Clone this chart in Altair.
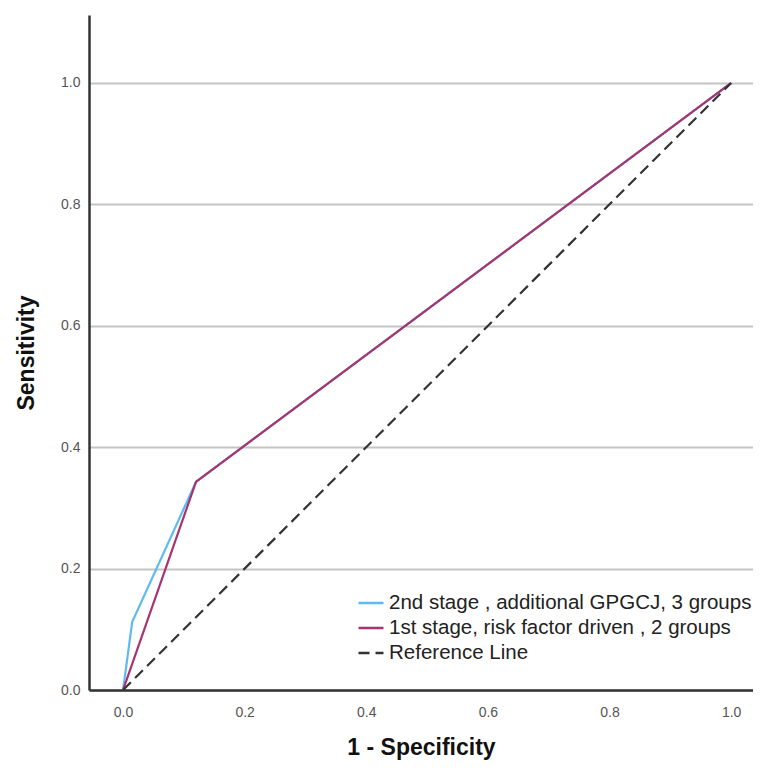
import altair as alt
import pandas as pd

# Data
series_names = [
    "2nd stage , additional GPGCJ, 3 groups",
    "1st stage, risk factor driven , 2 groups",
    "Reference Line",
]
blue_fpr = [0.0, 0.015, 0.12, 1.0]
blue_tpr = [0.0, 0.112, 0.343, 1.0]
red_fpr = [0.0, 0.12, 1.0]
red_tpr = [0.0, 0.343, 1.0]
ref_fpr = [0.0, 1.0]
ref_tpr = [0.0, 1.0]
tick_values = [0.0, 0.2, 0.4, 0.6, 0.8, 1.0]

colors = ["#5cbcf2", "#a8346f", "#333333"]
dashes = [[1, 0], [1, 0], [11, 6]]

rows = []
for name, xs, ys in zip(series_names, [blue_fpr, red_fpr, ref_fpr], [blue_tpr, red_tpr, ref_tpr]):
    for i, (x, y) in enumerate(zip(xs, ys)):
        rows.append({"series": name, "fpr": x, "tpr": y, "order": i})
df = pd.DataFrame(rows)

x_scale = alt.Scale(domain=[-0.056, 1.036], nice=False, zero=False)
y_scale = alt.Scale(domain=[0, 1.112], nice=False)

legend_kw = dict(title=None, orient="none", legendX=268, legendY=574,
                 symbolType="stroke", symbolSize=625, symbolStrokeWidth=2.5,
                 labelFont="Liberation Sans", labelFontSize=20.5, labelOffset=4,
                 labelColor="#222222", rowPadding=0, labelLimit=600)

lines = alt.Chart(df).mark_line(strokeWidth=2.2, clip=True).encode(
    x=alt.X("fpr:Q", scale=x_scale, title="1 - Specificity",
            axis=alt.Axis(values=tick_values, format=".1f", grid=False, ticks=False,
                          domainColor="#333333", domainWidth=2.5,
                          labelFont="Liberation Sans", labelFontSize=14, labelColor="#555555",
                          labelPadding=15, titleFont="Liberation Sans", titleFontSize=23,
                          titleFontWeight="bold", titleColor="#111111", titlePadding=17)),
    y=alt.Y("tpr:Q", scale=y_scale, title="Sensitivity",
            axis=alt.Axis(values=tick_values, format=".1f", grid=True, gridColor="#c4c4c4",
                          gridWidth=2, ticks=False, domainColor="#333333", domainWidth=2.5,
                          labelFont="Liberation Sans", labelFontSize=14, labelColor="#555555",
                          labelPadding=9, titleFont="Liberation Sans", titleFontSize=23,
                          titleFontWeight="bold", titleColor="#111111", titlePadding=22)),
    color=alt.Color("series:N", scale=alt.Scale(domain=series_names, range=colors),
                    legend=alt.Legend(**legend_kw)),
    strokeDash=alt.StrokeDash("series:N", scale=alt.Scale(domain=series_names, range=dashes),
                              legend=alt.Legend(**legend_kw)),
    order="order:Q",
)

chart = lines.properties(
    width=664, height=675,
    autosize=alt.AutoSizeParams(type="none"),
    padding={"left": 81, "top": 7, "right": 0, "bottom": 70},
).configure(background="white").configure_view(stroke=None)

chart.save("out.html", embed_options={"renderer": "svg", "actions": False})
